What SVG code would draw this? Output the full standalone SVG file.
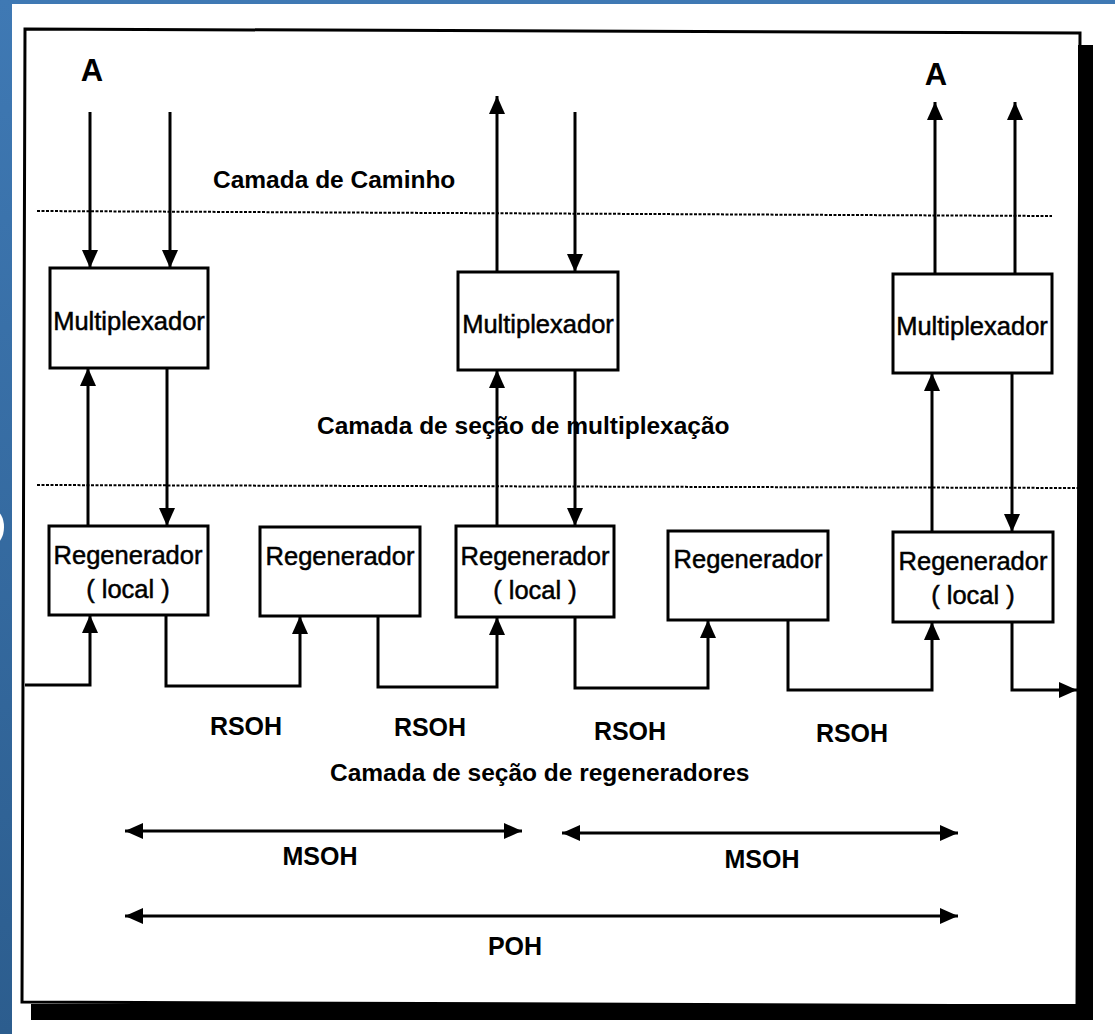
<svg xmlns="http://www.w3.org/2000/svg" width="1115" height="1034" viewBox="0 0 1115 1034">
<defs>
<linearGradient id="bg" x1="0" y1="0" x2="0" y2="1">
<stop offset="0" stop-color="#3f79b4"/>
<stop offset="1" stop-color="#2c5d8e"/>
</linearGradient>
<marker id="ah" markerUnits="userSpaceOnUse" markerWidth="19" markerHeight="17" refX="18" refY="8" orient="auto-start-reverse">
<path d="M0,0 L18,8 L0,16 z" fill="#000"/>
</marker>
<style>
.box{fill:#fff;stroke:#000;stroke-width:3}
.lbl{font-family:"Liberation Sans",Arial,sans-serif;font-size:25.5px;fill:#000;stroke:#000;stroke-width:0.5;text-anchor:middle}
.lay{font-family:"Liberation Sans",Arial,sans-serif;font-size:24.5px;font-weight:bold;fill:#000}
.tag{font-family:"Liberation Sans",Arial,sans-serif;font-size:25px;font-weight:bold;fill:#000;text-anchor:middle}
.big{font-family:"Liberation Sans",Arial,sans-serif;font-size:31px;font-weight:bold;fill:#000;text-anchor:middle}
.arr{fill:none;stroke:#000;stroke-width:3;marker-end:url(#ah)}
.dbl{fill:none;stroke:#000;stroke-width:3;marker-start:url(#ah);marker-end:url(#ah)}
.dot{stroke:#000;stroke-width:2;stroke-dasharray:3 1.5}
</style>
</defs>
<rect x="0" y="0" width="1115" height="1034" fill="url(#bg)"/>
<rect x="12" y="4" width="1103" height="1030" fill="#fff"/>
<ellipse cx="-6" cy="527" rx="10" ry="17" fill="#fff"/>
<g id="frame">
<rect x="1078" y="45" width="15" height="975" fill="#000"/>
<rect x="31" y="1004" width="1062" height="16" fill="#000"/>
<path d="M25,29 L1080,33 L1077,1006 L22,1002 Z" fill="none" stroke="#000" stroke-width="3"/>
</g>
<g id="layers">
<line class="dot" x1="37" y1="211" x2="1052" y2="216"/>
<line class="dot" x1="37" y1="485" x2="1078" y2="488"/>
<text class="lay" x="213" y="188">Camada de Caminho</text>
<text class="lay" x="317" y="434">Camada de seção de multiplexação</text>
<text class="lay" x="330" y="781">Camada de seção de regeneradores</text>
</g>
<g id="connectors">
<path class="arr" d="M90,112 V268"/>
<path class="arr" d="M170,112 V268"/>
<path class="arr" d="M88,526 V368"/>
<path class="arr" d="M167,368 V526"/>
<path class="arr" d="M25,685 H90 V615"/>
<path class="arr" d="M166,615 V686 H300 V616"/>
<path class="arr" d="M378,616 V687 H497 V617"/>
<path class="arr" d="M575,617 V688 H708 V620"/>
<path class="arr" d="M788,620 V690 H932 V622"/>
<path class="arr" d="M1012,622 V690 H1077"/>
<path class="arr" d="M497,272 V96"/>
<path class="arr" d="M575,112 V272"/>
<path class="arr" d="M497,526 V370"/>
<path class="arr" d="M575,370 V526"/>
<path class="arr" d="M935,274 V102"/>
<path class="arr" d="M1015,274 V102"/>
<path class="arr" d="M932,532 V373"/>
<path class="arr" d="M1012,373 V532"/>
<path class="dbl" d="M125,831 H522"/>
<path class="dbl" d="M562,833 H958"/>
<path class="dbl" d="M125,916 H958"/>
</g>
<g id="labels">
<text class="big" x="92" y="81">A</text>
<text class="big" x="936" y="85">A</text>
<text class="tag" x="246" y="735">RSOH</text>
<text class="tag" x="430" y="736">RSOH</text>
<text class="tag" x="630" y="740">RSOH</text>
<text class="tag" x="852" y="742">RSOH</text>
<text class="tag" x="320" y="865">MSOH</text>
<text class="tag" x="762" y="868">MSOH</text>
<text class="tag" x="515" y="955">POH</text>
</g>
<g id="mux1"><rect class="box" x="50" y="268" width="158" height="100"/><text class="lbl" x="129" y="330">Multiplexador</text></g>
<g id="mux2"><rect class="box" x="458" y="272" width="160" height="98"/><text class="lbl" x="538" y="333">Multiplexador</text></g>
<g id="mux3"><rect class="box" x="893" y="274" width="159" height="99"/><text class="lbl" x="972" y="335">Multiplexador</text></g>
<g id="reg1"><rect class="box" x="49" y="526" width="159" height="89"/><text class="lbl" x="128" y="564">Regenerador</text><text class="lbl" x="128" y="598">( local )</text></g>
<g id="reg2"><rect class="box" x="260" y="527" width="160" height="89"/><text class="lbl" x="340" y="565">Regenerador</text></g>
<g id="reg3"><rect class="box" x="456" y="526" width="158" height="91"/><text class="lbl" x="535" y="565">Regenerador</text><text class="lbl" x="535" y="599">( local )</text></g>
<g id="reg4"><rect class="box" x="668" y="531" width="160" height="89"/><text class="lbl" x="748" y="568">Regenerador</text></g>
<g id="reg5"><rect class="box" x="893" y="532" width="160" height="90"/><text class="lbl" x="973" y="570">Regenerador</text><text class="lbl" x="973" y="604">( local )</text></g>
</svg>
